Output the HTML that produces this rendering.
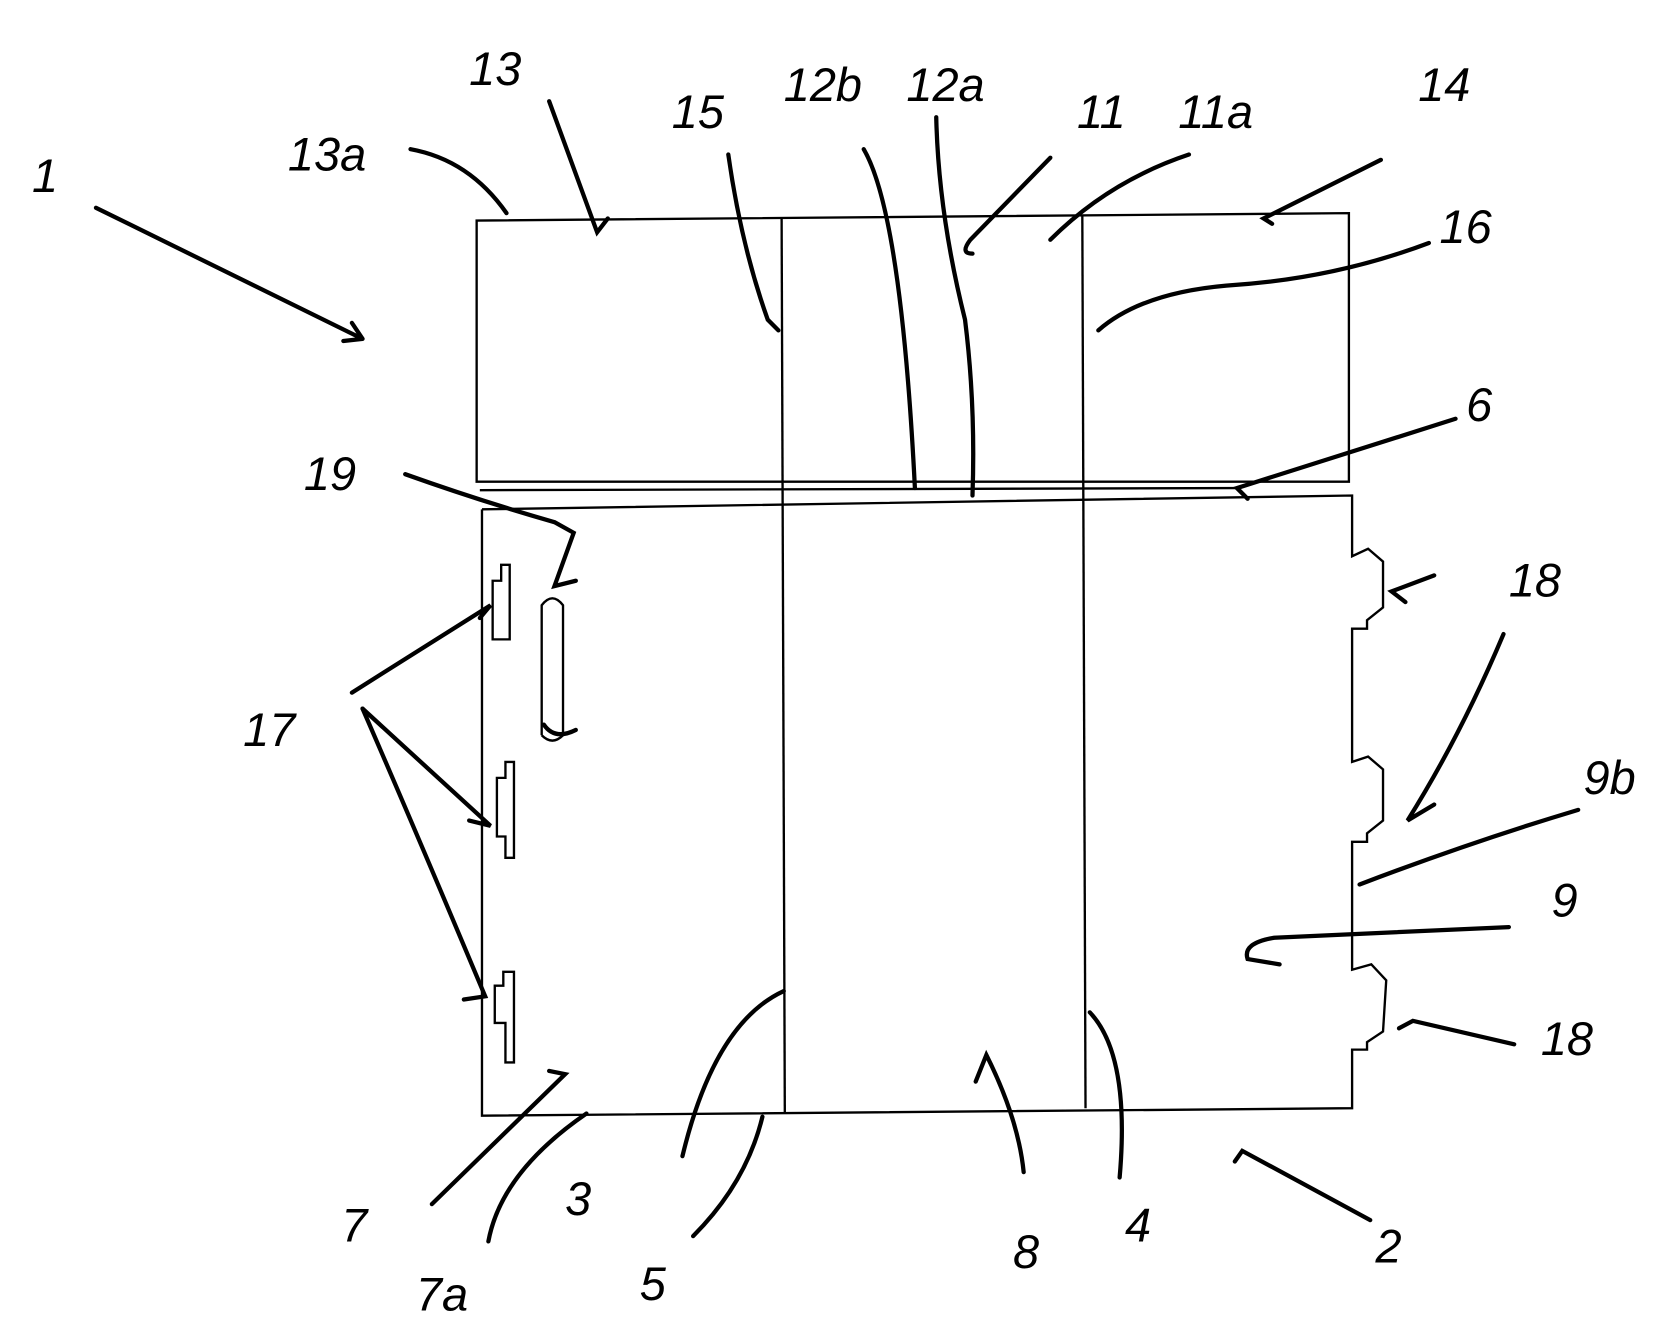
<!DOCTYPE html>
<html><head><meta charset="utf-8"><style>
html,body{margin:0;padding:0;background:#fff;}
svg{display:block;}
text{font-family:"Liberation Sans",sans-serif;font-style:italic;font-size:44px;fill:#000;}
</style></head><body>
<svg width="1672" height="1332" viewBox="0 0 1568 1250" preserveAspectRatio="none" xmlns="http://www.w3.org/2000/svg">
<g fill="none" stroke="#000" stroke-width="2.2">
<!-- top rectangle -->
<path d="M447 207 L1265 200 L1265 452 L447 452 Z"/>
<path d="M450 460 L1160 458"/>
<!-- lower panel -->
<path d="M452 478 L452 1047 L1268 1040 L1268 985 L1282 985 L1282 978 L1297 968 L1300 920 L1286 905 L1268 910 L1268 790 L1282 790 L1282 782 L1297 770 L1297 722 L1283 710 L1268 715 L1268 590 L1282 590 L1282 582 L1297 570 L1297 527 L1283 515 L1268 522 L1268 465 L452 478"/>
<path d="M733 205 L736 1045"/>
<path d="M1015 203 L1018 1040"/>
<!-- tabs 17 -->
<path d="M462 600 L462 545 L470 545 L470 530 L478 530 L478 600 Z"/>
<path d="M466 785 L466 730 L474 730 L474 715 L482 715 L482 805 L474 805 L474 785 Z"/>
<path d="M464 960 L464 925 L472 925 L472 912 L482 912 L482 997 L474 997 L474 960 Z"/>
<!-- slot 19 -->
<path d="M508 690 L508 568 Q518 555 528 568 L528 690 Q518 700 508 690"/>
</g>
<g fill="none" stroke="#000" stroke-width="4" stroke-linecap="round">
<path d="M90 195 L340 318 M340 318 L322 320 M340 318 L330 303"/>
<path d="M385 140 Q440 150 475 200"/>
<path d="M515 95 L560 218 L570 205"/>
<path d="M683 145 Q695 230 720 300 L730 310"/>
<path d="M810 140 Q845 200 858 458"/>
<path d="M878 110 Q880 200 905 300 Q915 380 912 465"/>
<path d="M985 148 L910 225 Q900 238 912 238"/>
<path d="M1115 145 Q1040 170 985 225"/>
<path d="M1295 150 L1185 205 L1193 210"/>
<path d="M1340 228 Q1250 262 1150 268 Q1070 275 1030 310"/>
<path d="M1365 393 L1160 458 L1170 468"/>
<path d="M380 445 Q450 470 520 490 L538 500 L520 550 L540 545"/>
<path d="M330 650 L460 568 L450 580"/>
<path d="M340 665 L460 775 L440 770"/>
<path d="M340 665 Q390 780 455 935 L435 938"/>
<path d="M510 680 Q520 695 540 685"/>
<path d="M1345 540 L1305 555 L1318 565"/>
<path d="M1410 595 Q1370 690 1320 770 L1345 755"/>
<path d="M1480 760 Q1380 790 1275 830"/>
<path d="M1415 870 L1195 880 Q1165 885 1170 900 L1200 905"/>
<path d="M1420 980 L1325 958 L1312 965"/>
<path d="M405 1130 L530 1008 L515 1005"/>
<path d="M458 1165 Q470 1100 550 1045"/>
<path d="M640 1085 Q670 960 735 930"/>
<path d="M650 1160 Q700 1110 715 1048"/>
<path d="M960 1100 Q955 1050 925 990 L915 1015"/>
<path d="M1050 1105 Q1060 990 1022 950"/>
<path d="M1285 1145 L1165 1080 L1158 1090"/>
</g>
<text x="30" y="180">1</text>
<text x="270" y="160">13a</text>
<text x="440" y="80">13</text>
<text x="630" y="120">15</text>
<text x="735" y="95">12b</text>
<text x="850" y="95">12a</text>
<text x="1010" y="120">11</text>
<text x="1105" y="120">11a</text>
<text x="1330" y="95">14</text>
<text x="1350" y="228">16</text>
<text x="1375" y="395">6</text>
<text x="285" y="460">19</text>
<text x="228" y="700">17</text>
<text x="1415" y="560">18</text>
<text x="1485" y="745">9b</text>
<text x="1455" y="860">9</text>
<text x="1445" y="990">18</text>
<text x="320" y="1165">7</text>
<text x="530" y="1140">3</text>
<text x="390" y="1230">7a</text>
<text x="600" y="1220">5</text>
<text x="950" y="1190">8</text>
<text x="1055" y="1165">4</text>
<text x="1290" y="1185">2</text>
</svg>
</body></html>
